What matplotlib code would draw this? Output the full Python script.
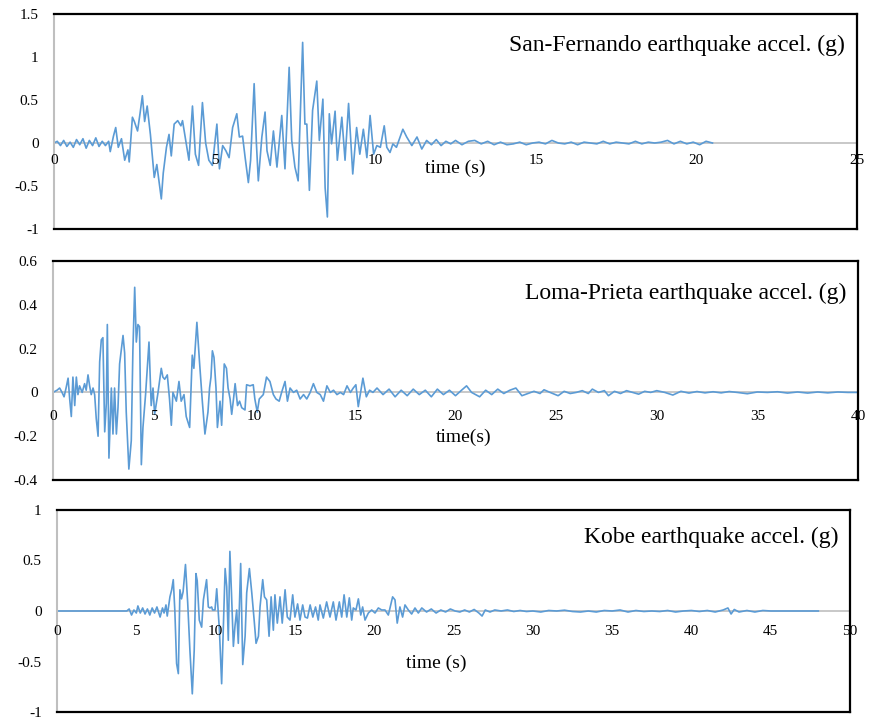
import numpy as np
import matplotlib
matplotlib.use("Agg")
import matplotlib.pyplot as plt

plt.rcParams['font.family'] = ['Liberation Serif', 'DejaVu Serif']

# San-Fernando record (time s, accel g)
sf_time = [0.0, 0.1, 0.2, 0.3, 0.4, 0.5, 0.6, 0.7, 0.8, 0.9,
           1.0, 1.1, 1.2, 1.3, 1.4, 1.5, 1.6, 1.7, 1.75, 1.85,
           1.92, 2.0, 2.1, 2.2, 2.3, 2.34, 2.44, 2.5, 2.6, 2.68,
           2.75, 2.82, 2.9, 3.0, 3.12, 3.2, 3.34, 3.4, 3.5, 3.58,
           3.65, 3.74, 3.85, 3.95, 4.0, 4.1, 4.2, 4.31, 4.4, 4.5,
           4.62, 4.72, 4.82, 4.93, 5.07, 5.15, 5.25, 5.35, 5.45, 5.56,
           5.69, 5.77, 5.87, 5.95, 6.05, 6.12, 6.23, 6.3, 6.36, 6.47,
           6.57, 6.63, 6.73, 6.83, 6.94, 7.09, 7.19, 7.32, 7.4, 7.5,
           7.6, 7.74, 7.81, 7.87, 7.95, 8.05, 8.18, 8.26, 8.37, 8.44,
           8.51, 8.57, 8.64, 8.75, 8.82, 8.96, 9.06, 9.17, 9.3, 9.42,
           9.52, 9.63, 9.74, 9.84, 9.95, 10.05, 10.16, 10.28, 10.36, 10.46,
           10.55, 10.66, 10.86, 10.98, 11.14, 11.3, 11.45, 11.6, 11.75, 11.9,
           12.05, 12.2, 12.35, 12.5, 12.7, 12.9, 13.1, 13.3, 13.5, 13.7,
           13.9, 14.1, 14.3, 14.5, 14.7, 14.9, 15.1, 15.3, 15.5, 15.7,
           15.9, 16.1, 16.3, 16.5, 16.7, 16.9, 17.1, 17.3, 17.5, 17.7,
           17.9, 18.1, 18.3, 18.5, 18.7, 18.9, 19.1, 19.3, 19.5, 19.7,
           19.9, 20.1, 20.3, 20.5]
sf_accel = [0.0, 0.02, -0.03, 0.03, -0.04, 0.01, -0.05, 0.04, -0.02, 0.05,
            -0.06, 0.03, -0.03, 0.06, -0.04, 0.02, -0.03, 0.02, -0.1, 0.08,
            0.18, -0.05, 0.05, -0.2, -0.08, -0.22, 0.3, 0.25, 0.14, 0.35,
            0.55, 0.25, 0.43, 0.1, -0.4, -0.25, -0.65, -0.35, -0.05, 0.1,
            -0.15, 0.22, 0.26, 0.2, 0.26, 0.03, -0.2, 0.43, -0.13, -0.26,
            0.47, 0.0, -0.2, -0.26, 0.22, -0.3, -0.03, -0.09, -0.17, 0.18,
            0.34, 0.07, 0.08, -0.17, -0.46, -0.2, 0.69, 0.0, -0.44, 0.07,
            0.36, -0.09, -0.26, 0.14, -0.28, 0.32, -0.3, 0.88, 0.03, -0.28,
            -0.44, 1.17, 0.22, 0.22, -0.55, 0.38, 0.72, 0.03, 0.51, -0.52,
            -0.86, 0.34, -0.01, 0.37, -0.2, 0.3, -0.2, 0.46, -0.36, 0.18,
            -0.13, 0.16, -0.17, 0.32, -0.13, -0.03, -0.05, 0.2, -0.05, -0.11,
            -0.01, -0.05, 0.16, 0.07, -0.03, 0.07, -0.07, 0.03, -0.02, 0.04,
            -0.03, 0.02, -0.01, 0.03, -0.02, 0.02, 0.03, -0.01, 0.02, -0.02,
            0.01, -0.02, -0.01, 0.01, -0.02, 0.0, 0.01, -0.01, 0.03, 0.0,
            -0.01, 0.01, -0.02, 0.01, 0.0, -0.01, 0.02, -0.01, 0.01, 0.0,
            -0.01, 0.02, -0.01, 0.01, 0.0, 0.01, 0.03, -0.01, 0.02, -0.01,
            0.01, -0.02, 0.02, 0.0]

# Loma-Prieta record
lp_time = [0.0, 0.2, 0.33, 0.45, 0.55, 0.65, 0.75, 0.83, 0.91, 0.99,
           1.08, 1.16, 1.24, 1.32, 1.45, 1.57, 1.65, 1.74, 1.82, 1.9,
           1.99, 2.07, 2.15, 2.24, 2.32, 2.4, 2.48, 2.57, 2.65, 2.7,
           2.78, 2.9, 2.98, 3.06, 3.15, 3.23, 3.31, 3.39, 3.48, 3.56,
           3.64, 3.77, 3.89, 3.97, 4.06, 4.14, 4.22, 4.3, 4.39, 4.47,
           4.6, 4.77, 4.88, 4.97, 5.05, 5.22, 5.38, 5.46, 5.55, 5.68,
           5.79, 5.88, 5.96, 6.13, 6.26, 6.37, 6.51, 6.62, 6.79, 6.92,
           7.0, 7.15, 7.28, 7.42, 7.55, 7.7, 7.78, 7.85, 7.92, 8.0,
           8.1, 8.17, 8.3, 8.38, 8.51, 8.62, 8.7, 8.8, 8.88, 8.97,
           9.05, 9.17, 9.27, 9.38, 9.54, 9.62, 9.79, 9.95, 10.03, 10.15,
           10.25, 10.45, 10.61, 10.78, 10.95, 11.08, 11.24, 11.36, 11.53, 11.65,
           11.78, 11.95, 12.11, 12.28, 12.45, 12.61, 12.78, 12.94, 13.11, 13.28,
           13.44, 13.61, 13.78, 13.94, 14.11, 14.28, 14.44, 14.61, 14.78, 14.92,
           15.05, 15.17, 15.4, 15.57, 15.73, 15.9, 16.1, 16.4, 16.7, 17.0,
           17.3, 17.6, 17.9, 18.2, 18.5, 18.8, 19.1, 19.4, 19.7, 20.0,
           20.3, 20.55, 20.8, 21.2, 21.5, 21.8, 22.1, 22.4, 22.7, 23.0,
           23.3, 23.6, 23.9, 24.2, 24.4, 24.7, 25.1, 25.4, 25.7, 26.0,
           26.3, 26.6, 26.8, 27.1, 27.4, 27.6, 27.9, 28.2, 28.5, 28.8,
           29.1, 29.4, 29.7, 30.0, 30.4, 30.8, 31.2, 31.6, 32.0, 32.4,
           32.8, 33.2, 33.6, 34.0, 34.5, 35.0, 35.5, 36.0, 36.5, 37.0,
           37.5, 38.0, 38.5, 39.0, 39.5, 40.0]
lp_accel = [0.0, 0.01, 0.02, 0.0, -0.02, 0.02, 0.065, -0.03, -0.11, 0.07,
            -0.06, 0.07, -0.01, 0.03, 0.0, 0.04, 0.01, 0.08, 0.03, -0.01,
            0.02, -0.01, -0.12, -0.2, 0.14, 0.24, 0.25, -0.18, -0.05, 0.31,
            -0.3, 0.02, -0.19, 0.02, -0.19, -0.07, 0.13, 0.19, 0.26, 0.18,
            -0.09, -0.35, -0.22, 0.19, 0.48, 0.23, 0.31, 0.3, -0.33, -0.16,
            -0.01, 0.23, -0.06, 0.02, -0.1, 0.0, 0.11, 0.07, 0.06, 0.08,
            -0.03, -0.15, 0.0, -0.04, 0.05, -0.04, -0.01, -0.11, -0.16, 0.17,
            0.11, 0.32, 0.14, -0.04, -0.19, -0.09, 0.02, 0.07, 0.19, 0.16,
            0.02, -0.16, -0.04, -0.15, 0.13, 0.11, 0.02, -0.03, -0.1, -0.03,
            0.04, -0.06, -0.04, -0.07, -0.08, 0.035, 0.03, 0.035, -0.03, -0.09,
            -0.03, -0.01, 0.07, 0.05, -0.01, -0.03, -0.04, 0.0, 0.05, -0.04,
            0.02, 0.0, 0.01, -0.03, -0.01, -0.03, 0.0, 0.04, 0.0, -0.01,
            -0.04, 0.03, 0.0, 0.01, -0.01, 0.0, -0.01, 0.03, 0.0, 0.02,
            0.035, -0.065, 0.065, -0.02, 0.01, 0.0, 0.02, -0.01, 0.015, -0.02,
            0.01, -0.015, 0.015, -0.01, 0.01, -0.02, 0.015, -0.01, 0.01, -0.015,
            0.01, 0.03, 0.0, -0.02, 0.01, -0.01, 0.015, -0.005, 0.01, 0.02,
            -0.015, -0.005, 0.005, -0.005, 0.012, 0.0, -0.015, 0.005, -0.005, 0.0,
            0.008, -0.005, 0.015, 0.0, 0.008, -0.015, 0.005, -0.005, 0.008, 0.0,
            -0.008, 0.005, 0.0, 0.008, 0.0, -0.012, 0.005, -0.003, 0.004, -0.002,
            0.003, -0.002, 0.004, 0.0, -0.006, 0.002, 0.0, 0.003, -0.003, 0.002,
            -0.003, 0.002, -0.002, 0.002, 0.0, 0.0]

# Kobe record
kb_time = [0.0, 4.4, 4.55, 4.7, 4.85, 5.0, 5.1, 5.25, 5.4, 5.55,
           5.7, 5.85, 6.0, 6.15, 6.3, 6.5, 6.65, 6.75, 6.87, 6.95,
           7.05, 7.12, 7.23, 7.33, 7.43, 7.54, 7.65, 7.75, 7.85, 7.95,
           8.1, 8.24, 8.38, 8.53, 8.65, 8.76, 8.84, 8.97, 9.12, 9.23,
           9.33, 9.43, 9.54, 9.64, 9.75, 9.81, 9.96, 10.07, 10.24, 10.38,
           10.49, 10.6, 10.7, 10.8, 10.9, 11.0, 11.12, 11.22, 11.33, 11.43,
           11.58, 11.71, 11.86, 11.96, 12.13, 12.28, 12.43, 12.55, 12.7, 12.8,
           12.97, 13.08, 13.22, 13.37, 13.5, 13.64, 13.74, 13.89, 14.06, 14.2,
           14.38, 14.52, 14.69, 14.86, 15.0, 15.17, 15.32, 15.49, 15.64, 15.79,
           15.96, 16.13, 16.3, 16.47, 16.58, 16.79, 17.0, 17.21, 17.42, 17.59,
           17.8, 17.95, 18.1, 18.27, 18.43, 18.58, 18.68, 18.85, 19.0, 19.15,
           19.27, 19.42, 19.63, 19.84, 20.05, 20.26, 20.47, 20.68, 20.89, 21.04,
           21.16, 21.31, 21.45, 21.62, 21.79, 21.94, 22.15, 22.36, 22.57, 22.78,
           23.0, 23.3, 23.6, 23.9, 24.2, 24.5, 24.8, 25.1, 25.4, 25.7,
           26.0, 26.3, 26.6, 26.8, 27.0, 27.3, 27.6, 28.0, 28.4, 28.8,
           29.2, 29.6, 30.0, 30.5, 31.0, 31.5, 32.0, 32.5, 33.0, 33.5,
           34.0, 34.5, 35.0, 35.5, 36.0, 36.5, 37.0, 37.5, 38.0, 38.5,
           39.0, 39.5, 40.0, 40.5, 41.0, 41.5, 42.0, 42.3, 42.5, 42.7,
           43.0, 43.5, 44.0, 44.5, 45.0, 48.0]
kb_accel = [0.0, 0.0, 0.02, -0.04, 0.01, -0.02, 0.05, -0.02, 0.03, -0.03,
            0.02, -0.04, 0.03, -0.02, 0.04, -0.06, 0.03, -0.02, 0.06, -0.05,
            0.06, 0.14, 0.21, 0.31, 0.0, -0.52, -0.62, 0.21, 0.12, 0.19,
            0.46, 0.08, -0.39, -0.82, -0.39, 0.37, 0.3, -0.09, -0.16, 0.11,
            0.21, 0.31, 0.04, 0.03, 0.04, 0.01, 0.01, 0.22, -0.19, -0.72,
            -0.16, 0.42, 0.24, -0.29, 0.59, 0.18, -0.35, -0.15, 0.01, -0.32,
            0.47, -0.53, -0.25, 0.18, 0.42, 0.18, -0.09, -0.32, -0.25, 0.04,
            0.31, 0.14, 0.11, -0.25, 0.14, -0.19, 0.16, -0.12, 0.14, -0.12,
            0.21, -0.06, -0.09, 0.16, -0.06, 0.07, -0.09, 0.06, -0.06, -0.07,
            0.06, -0.06, 0.04, -0.09, 0.06, -0.07, 0.09, -0.06, 0.09, -0.09,
            0.09, -0.06, 0.16, -0.06, 0.13, -0.09, 0.03, 0.01, 0.12, -0.04,
            0.04, -0.09, -0.02, 0.01, -0.02, 0.03, 0.01, 0.01, -0.04, 0.06,
            0.14, 0.11, -0.12, 0.04, -0.06, 0.06, 0.01, -0.03, 0.03, -0.02,
            0.03, -0.01, 0.02, -0.02, 0.01, -0.01, 0.02, 0.0, -0.01, 0.01,
            -0.01, 0.015, -0.02, -0.05, 0.01, -0.01, 0.01, 0.0, 0.01, -0.005,
            0.005, -0.005, 0.0, -0.01, 0.005, 0.0, 0.008, -0.005, -0.01, 0.0,
            -0.01, 0.005, 0.0, 0.01, -0.01, 0.005, -0.005, 0.0, -0.005, 0.005,
            -0.01, 0.0, 0.005, -0.005, 0.005, -0.01, 0.01, 0.03, -0.03, 0.015,
            -0.01, 0.005, -0.01, 0.005, 0.0, 0.0]

sf_yticks = [-1, -0.5, 0, 0.5, 1, 1.5]
lp_yticks = [-0.4, -0.2, 0, 0.2, 0.4, 0.6]
kb_yticks = [-1, -0.5, 0, 0.5, 1]

LINE = '#5B9BD5'
GRAY = '#BFBFBF'

panels = [
    dict(t=sf_time, a=sf_accel, rect=[0.0619, 0.6841, 0.9198, 0.2966],
         ylim=(-1, 1.5), yticks=sf_yticks, xmax=25,
         title='San-Fernando earthquake accel. (g)', tpos=(0.985, 0.856),
         xlabel='time (s)', lpos=(0.5, 0.284), pad=8.0),
    dict(t=lp_time, a=lp_accel, rect=[0.0607, 0.3379, 0.9221, 0.3021],
         ylim=(-0.4, 0.6), yticks=lp_yticks, xmax=40,
         title='Loma-Prieta earthquake accel. (g)', tpos=(0.986, 0.854),
         xlabel='time(s)', lpos=(0.51, 0.196), pad=13.0),
    dict(t=kb_time, a=kb_accel, rect=[0.0653, 0.0179, 0.9084, 0.2787],
         ylim=(-1, 1), yticks=kb_yticks, xmax=50,
         title='Kobe earthquake accel. (g)', tpos=(0.985, 0.866),
         xlabel='time (s)', lpos=(0.478, 0.243), pad=10.0),
]

fig = plt.figure(figsize=(8.73, 7.25), dpi=100)

for p in panels:
    ax = fig.add_axes(p['rect'])
    ax.axhline(0, color=GRAY, lw=1.2, zorder=1)
    ax.plot(p['t'], p['a'], color=LINE, lw=1.2, zorder=2)
    ax.set_xlim(0, p['xmax'])
    ax.set_ylim(*p['ylim'])

    ax.set_yticks(p['yticks'])
    ax.set_yticklabels([f'{v:g}' for v in p['yticks']])
    ax.tick_params(axis='y', length=0, pad=11, labelsize=11)
    ax.set_xticks([])

    # x tick labels sit under the zero line, as in the spreadsheet chart
    for xt in range(0, p['xmax'] + 1, 5):
        ax.annotate(str(xt), xy=(xt, 0), xytext=(0, -p['pad']),
                    textcoords='offset points', ha='center', va='top',
                    fontsize=11, annotation_clip=False)

    ax.text(*p['tpos'], p['title'], transform=ax.transAxes,
            ha='right', va='center', fontsize=17)
    ax.text(*p['lpos'], p['xlabel'], transform=ax.transAxes,
            ha='center', va='center', fontsize=14)

    for side in ['top', 'right', 'bottom']:
        ax.spines[side].set_color('black')
        ax.spines[side].set_linewidth(1.6)
    ax.spines['left'].set_color(GRAY)
    ax.spines['left'].set_linewidth(1.5)

fig.savefig('out.png', dpi=100)
